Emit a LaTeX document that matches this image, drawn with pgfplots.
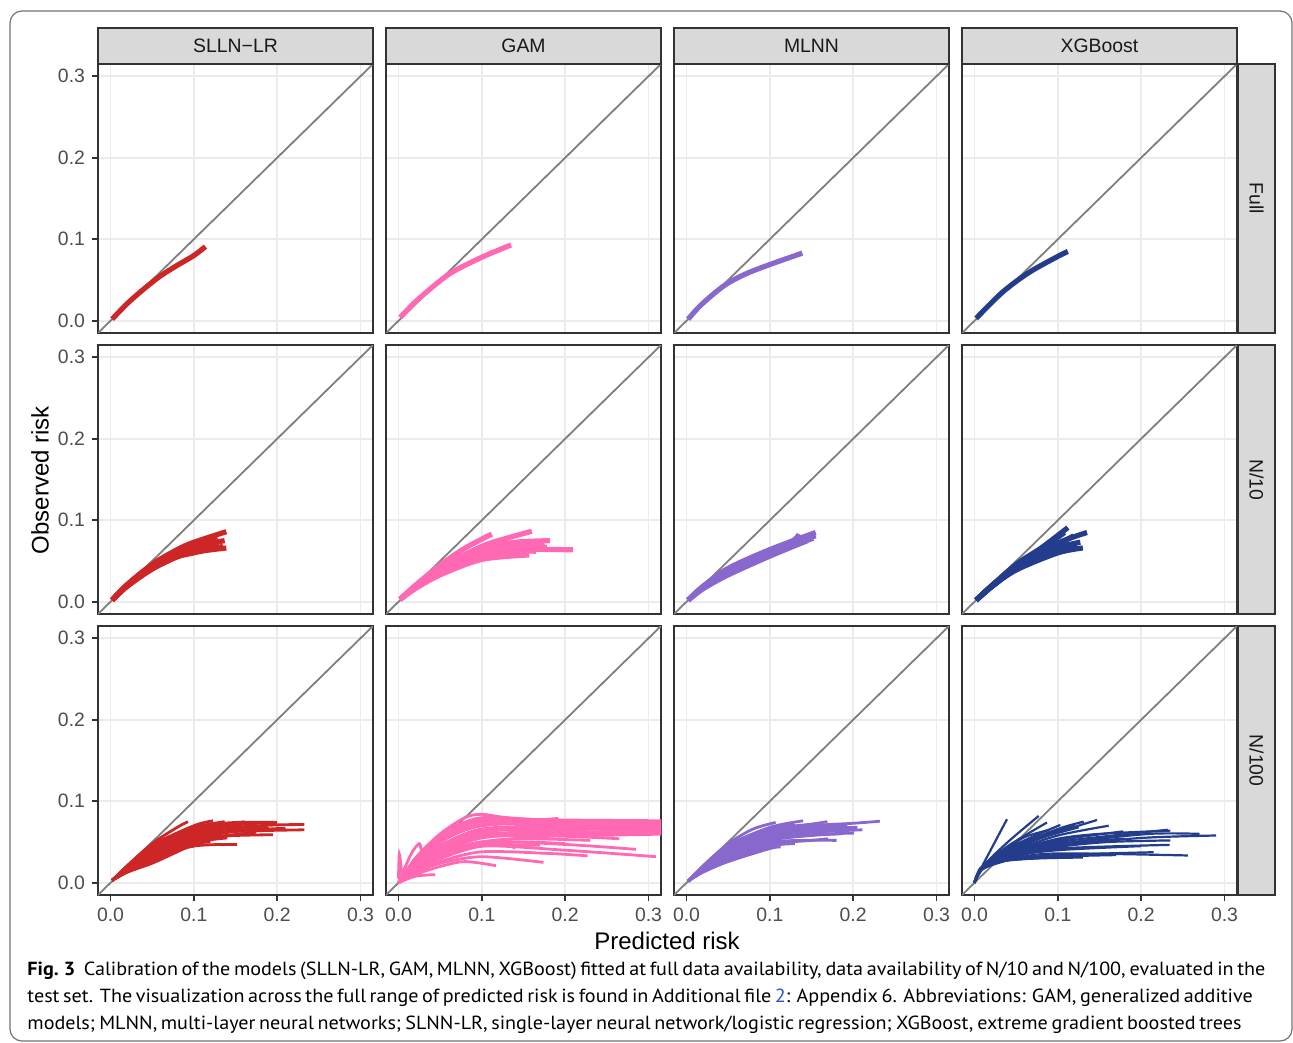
\documentclass[border=0pt]{standalone}
\usepackage{pgfplots}
\pgfplotsset{compat=1.18}
\usepackage{fontspec}
\setmainfont{Liberation Sans}
\newfontfamily\capfont{PT Sans}[FakeStretch=1.06]
\definecolor{cSL}{HTML}{CD2626}
\definecolor{cGA}{HTML}{FF69B4}
\definecolor{cML}{HTML}{8968CD}
\definecolor{cXG}{HTML}{233D8C}
\definecolor{gridc}{HTML}{EBEBEB}
\definecolor{frm}{HTML}{333333}
\definecolor{diagc}{HTML}{7F7F7F}
\definecolor{tickc}{HTML}{4D4D4D}
\definecolor{stripc}{HTML}{D9D9D9}
\definecolor{linkc}{HTML}{2A4FD8}
\newcommand\crv[1]{\addplot coordinates {#1};}
\newcommand\diag{\addplot[draw=diagc, line width=0.9pt, sharp plot] coordinates {(-0.015,-0.015)(0.315,0.315)};}
\pgfplotsset{
 panel/.style={
  scale only axis, width=137.5pt, height=134.5pt, anchor=south west,
  xmin=-0.015,xmax=0.315,ymin=-0.015,ymax=0.315,
  xtick={0,0.1,0.2,0.3}, ytick={0,0.1,0.2,0.3},
  grid=major, major grid style={draw=gridc, line width=0.9pt},
  axis line style={draw=frm, line width=0.9pt},
  tick align=outside, tick pos=left,
  major tick length=3pt,
  tick style={draw=frm, line width=0.9pt},
  xmajorticks=false, ymajorticks=false,
  xticklabels={}, yticklabels={},
  tick label style={font=\fontsize{9.7}{11}\selectfont, text=tickc},
  no markers,
  axis background/.style={fill=white},
 },
 lcol/.style={ymajorticks=true, yticklabels={0.0,0.1,0.2,0.3}},
 brow/.style={xmajorticks=true, xticklabels={0.0,0.1,0.2,0.3}},
 pthick/.style={every axis plot/.append style={smooth, line width=2.6pt, line cap=butt}},
 pthin/.style={every axis plot/.append style={smooth, line width=1.4pt, line cap=butt}},
 csl/.style={cycle list={draw=cSL,solid\\}},
 cga/.style={cycle list={draw=cGA,solid\\}},
 cml/.style={cycle list={draw=cML,solid\\}},
 cxg/.style={cycle list={draw=cXG,solid\\}},
}
\begin{document}
\begin{tikzpicture}
\useasboundingbox (0,0) rectangle (646.5pt,-521pt);
\draw[color=black!55, line width=0.6pt, rounded corners=6pt] (5pt,-5.5pt) rectangle (646pt,-520.5pt);
% ---------------- Row 1: Full
\begin{axis}[panel, lcol, pthick, csl, at={(49pt,-166.5pt)}]
\diag
\crv{(0.002,0.002)(0.02,0.021)(0.04,0.039)(0.06,0.055)(0.08,0.068)(0.1,0.08)(0.114,0.091)}
\end{axis}
\begin{axis}[panel, pthick, cga, at={(193pt,-166.5pt)}]
\diag
\crv{(0.002,0.004)(0.02,0.023)(0.045,0.045)(0.065,0.06)(0.1,0.078)(0.135,0.093)}
\end{axis}
\begin{axis}[panel, pthick, cml, at={(337pt,-166.5pt)}]
\diag
\crv{(0.002,0.002)(0.018,0.02)(0.045,0.043)(0.07,0.057)(0.1,0.069)(0.139,0.083)}
\end{axis}
\begin{axis}[panel, pthick, cxg, at={(481pt,-166.5pt)}]
\diag
\crv{(0.002,0.003)(0.0335,0.035)(0.065,0.059)(0.1,0.079)(0.112,0.085)}
\end{axis}
% ---------------- Row 2: N/10
\begin{axis}[panel, lcol, pthick, csl, at={(49pt,-307pt)}]
\diag
\crv{(0.002,0.002)(0.02,0.021)(0.05,0.046)(0.08,0.064)(0.1,0.073)(0.139,0.086)}
\crv{(0.002,0.002)(0.02,0.02)(0.05,0.044)(0.08,0.06)(0.1,0.068)(0.137,0.075)}
\crv{(0.002,0.002)(0.02,0.019)(0.05,0.041)(0.08,0.056)(0.1,0.061)(0.139,0.066)}
\crv{(0.002,0.002)(0.02,0.02)(0.05,0.043)(0.08,0.06)(0.1,0.068)(0.121,0.075)}
\crv{(0.002,0.002)(0.02,0.02)(0.05,0.042)(0.08,0.058)(0.1,0.065)(0.13,0.071)}
\crv{(0.002,0.002)(0.02,0.019)(0.05,0.04)(0.08,0.055)(0.1,0.06)(0.135,0.068)}
\crv{(0.002,0.002)(0.02,0.021)(0.05,0.045)(0.08,0.062)(0.1,0.07)(0.128,0.08)}
\end{axis}
\begin{axis}[panel, pthick, cga, at={(193pt,-307pt)}]
\diag
\crv{(0.002,0.003)(0.02,0.02)(0.05,0.045)(0.08,0.066)(0.112,0.083)}
\crv{(0.002,0.003)(0.02,0.019)(0.05,0.042)(0.1,0.068)(0.13,0.078)(0.16,0.0865)}
\crv{(0.002,0.003)(0.02,0.018)(0.05,0.04)(0.1,0.065)(0.14,0.073)(0.182,0.075)}
\crv{(0.002,0.003)(0.02,0.017)(0.05,0.036)(0.1,0.058)(0.15,0.064)(0.2095,0.0637)}
\crv{(0.002,0.003)(0.02,0.017)(0.05,0.037)(0.1,0.06)(0.14,0.067)(0.178,0.067)}
\crv{(0.002,0.003)(0.02,0.016)(0.05,0.033)(0.1,0.052)(0.157,0.0575)}
\crv{(0.002,0.003)(0.02,0.018)(0.05,0.039)(0.1,0.063)(0.15,0.07)(0.175,0.071)}
\crv{(0.002,0.003)(0.02,0.017)(0.05,0.035)(0.1,0.056)(0.14,0.062)(0.165,0.062)}
\end{axis}
\begin{axis}[panel, pthick, cml, at={(337pt,-307pt)}]
\diag
\crv{(0.002,0.002)(0.02,0.019)(0.05,0.041)(0.1,0.064)(0.155,0.085)}
\crv{(0.002,0.002)(0.02,0.018)(0.05,0.038)(0.1,0.061)(0.155,0.081)}
\crv{(0.002,0.002)(0.02,0.017)(0.05,0.036)(0.1,0.058)(0.152,0.078)}
\crv{(0.002,0.002)(0.02,0.018)(0.05,0.039)(0.1,0.062)(0.14,0.077)(0.148,0.082)}
\crv{(0.002,0.002)(0.02,0.016)(0.05,0.033)(0.1,0.056)(0.145,0.075)}
\crv{(0.002,0.002)(0.02,0.019)(0.05,0.04)(0.1,0.063)(0.128,0.075)(0.135,0.083)}
\end{axis}
\begin{axis}[panel, pthick, cxg, at={(481pt,-307pt)}]
\diag
\crv{(0.002,0.002)(0.02,0.019)(0.05,0.046)(0.08,0.066)(0.112,0.091)}
\crv{(0.002,0.002)(0.02,0.019)(0.05,0.044)(0.1,0.072)(0.135,0.085)}
\crv{(0.002,0.002)(0.02,0.018)(0.05,0.042)(0.1,0.066)(0.127,0.073)}
\crv{(0.002,0.002)(0.02,0.018)(0.05,0.04)(0.1,0.062)(0.123,0.069)}
\crv{(0.002,0.002)(0.02,0.019)(0.05,0.043)(0.1,0.07)(0.119,0.081)}
\crv{(0.002,0.002)(0.02,0.018)(0.05,0.039)(0.1,0.06)(0.13,0.066)}
\crv{(0.002,0.002)(0.02,0.019)(0.05,0.045)(0.09,0.072)(0.108,0.085)}
\end{axis}
% ---------------- Row 3: N/100
\begin{axis}[panel, lcol, brow, pthin, csl, at={(49pt,-447.5pt)}]
\diag
\crv{(0.002,0.003)(0.02,0.021)(0.05,0.048)(0.08,0.068)(0.093,0.075)}
\crv{(0.002,0.003)(0.02,0.02)(0.05,0.046)(0.1,0.07)(0.123,0.076)}
\crv{(0.002,0.003)(0.02,0.019)(0.05,0.043)(0.1,0.067)(0.137,0.075)}
\crv{(0.002,0.003)(0.02,0.019)(0.05,0.042)(0.1,0.065)(0.15,0.073)(0.161,0.075)}
\crv{(0.002,0.003)(0.02,0.018)(0.05,0.04)(0.1,0.063)(0.15,0.071)(0.197,0.074)}
\crv{(0.002,0.003)(0.02,0.018)(0.05,0.038)(0.1,0.061)(0.15,0.068)(0.2,0.071)(0.2326,0.0714)}
\crv{(0.002,0.003)(0.02,0.017)(0.05,0.036)(0.1,0.058)(0.15,0.063)(0.2326,0.065)}
\crv{(0.002,0.003)(0.02,0.016)(0.05,0.034)(0.1,0.055)(0.15,0.058)(0.195,0.059)}
\crv{(0.002,0.003)(0.02,0.014)(0.05,0.029)(0.1,0.045)(0.152,0.047)}
\crv{(0.002,0.003)(0.02,0.015)(0.05,0.031)(0.1,0.05)(0.15,0.059)(0.175,0.062)}
\crv{(0.002,0.003)(0.02,0.017)(0.05,0.037)(0.1,0.06)(0.15,0.067)(0.18,0.069)}
\crv{(0.002,0.003)(0.02,0.018)(0.05,0.041)(0.1,0.065)(0.14,0.072)(0.165,0.074)}
\crv{(0.002,0.003)(0.02,0.015)(0.05,0.032)(0.1,0.052)(0.14,0.058)(0.16,0.06)}
\crv{(0.002,0.003)(0.02,0.016)(0.05,0.035)(0.1,0.057)(0.13,0.063)}
\crv{(0.002,0.003)(0.02,0.019)(0.05,0.044)(0.1,0.068)(0.15,0.074)(0.2,0.074)}
\crv{(0.002,0.003)(0.02,0.015)(0.05,0.033)(0.1,0.054)(0.15,0.063)(0.21,0.067)}
\crv{(0.002,0.003)(0.02,0.013)(0.05,0.025)(0.1,0.047)(0.12,0.05)}
\crv{(0.002,0.003)(0.02,0.017)(0.05,0.038)(0.1,0.062)(0.12,0.066)}
\crv{(0.002,0.003)(0.02,0.014)(0.05,0.028)(0.1,0.049)(0.14,0.055)}
\crv{(0.002,0.003)(0.02,0.016)(0.05,0.034)(0.1,0.056)(0.15,0.064)(0.19,0.067)}
\crv{(0.002,0.003)(0.02,0.013)(0.05,0.024)(0.08,0.038)(0.1,0.048)}
\end{axis}
\begin{axis}[panel, brow, pthin, cga, at={(193pt,-447.5pt)}]
\diag
\crv{(0.0,0.0)(0.02,0.03)(0.05,0.06)(0.08,0.08)(0.1,0.084)(0.13,0.08)(0.2,0.076)(0.33,0.075)}
\crv{(0.0,0.0)(0.02,0.028)(0.05,0.055)(0.09,0.075)(0.13,0.078)(0.2,0.077)(0.33,0.076)}
\crv{(0.0,0.0)(0.02,0.025)(0.05,0.05)(0.1,0.07)(0.2,0.073)(0.33,0.072)}
\crv{(0.0,0.0)(0.02,0.022)(0.05,0.045)(0.1,0.066)(0.2,0.07)(0.33,0.07)}
\crv{(0.0,0.0)(0.02,0.02)(0.05,0.042)(0.1,0.062)(0.2,0.068)(0.33,0.068)}
\crv{(0.0,0.0)(0.02,0.018)(0.05,0.038)(0.1,0.058)(0.2,0.065)(0.33,0.066)}
\crv{(0.0,0.0)(0.02,0.017)(0.05,0.035)(0.1,0.055)(0.2,0.062)(0.33,0.063)}
\crv{(0.0,0.0)(0.02,0.015)(0.05,0.032)(0.1,0.05)(0.2,0.058)(0.33,0.062)}
\crv{(0.0,0.0)(0.02,0.015)(0.05,0.03)(0.1,0.045)(0.2,0.04)(0.309,0.032)}
\crv{(0.0,0.0)(0.02,0.016)(0.05,0.033)(0.1,0.05)(0.2,0.047)(0.285,0.041)}
\crv{(0.0,0.0)(0.02,0.02)(0.05,0.04)(0.1,0.058)(0.2,0.057)(0.265,0.054)}
\crv{(0.0,0.0)(0.02,0.012)(0.05,0.026)(0.1,0.038)(0.18,0.036)(0.227,0.033)}
\crv{(0.0,0.0)(0.02,0.012)(0.05,0.024)(0.1,0.032)(0.174,0.025)}
\crv{(0.0,0.0)(0.02,0.01)(0.05,0.02)(0.08,0.026)(0.117,0.021)}
\crv{(0.0,0.0)(0.02,0.008)(0.044,0.01)}
\crv{(0.0,0.005)(0.001,0.035)(0.004,0.01)}
\crv{(0.0,0.0)(0.015,0.035)(0.025,0.048)(0.03,0.04)(0.06,0.058)(0.1,0.07)(0.192,0.079)}
\crv{(0.0,0.0)(0.02,0.024)(0.05,0.05)(0.09,0.07)(0.15,0.073)(0.2,0.07)(0.25,0.065)(0.33,0.064)}
\crv{(0.0,0.0)(0.02,0.02)(0.05,0.043)(0.1,0.06)(0.15,0.06)(0.22,0.058)(0.33,0.06)}
\crv{(0.0,0.0)(0.02,0.022)(0.05,0.046)(0.1,0.065)(0.15,0.065)(0.25,0.068)(0.33,0.073)}
\crv{(0.0,0.0)(0.02,0.018)(0.05,0.036)(0.1,0.05)(0.15,0.054)(0.23,0.052)}
\crv{(0.0,0.0)(0.02,0.026)(0.05,0.052)(0.085,0.072)(0.12,0.075)(0.18,0.074)}
\crv{(0.0,0.0)(0.02,0.014)(0.05,0.03)(0.1,0.046)(0.15,0.05)(0.2,0.048)}
\crv{(0.0,0.0)(0.02,0.02)(0.05,0.04)(0.1,0.056)(0.16,0.058)(0.28,0.063)(0.33,0.067)}
\crv{(0.0,0.0)(0.03,0.04)(0.06,0.065)(0.09,0.078)(0.11,0.08)(0.14,0.077)(0.25,0.074)}
\crv{(0.0,0.0)(0.02,0.017)(0.05,0.037)(0.1,0.048)(0.125,0.05)(0.14,0.042)}
\crv{(0.0,0.005)(0.01,0.012)(0.02,0.022)(0.03,0.02)(0.05,0.03)(0.1,0.045)(0.17,0.046)}
\end{axis}
\begin{axis}[panel, brow, pthin, cml, at={(337pt,-447.5pt)}]
\diag
\crv{(0.002,0.002)(0.02,0.021)(0.05,0.048)(0.08,0.066)(0.107,0.074)}
\crv{(0.002,0.002)(0.02,0.02)(0.05,0.046)(0.1,0.068)(0.14,0.076)}
\crv{(0.002,0.002)(0.02,0.019)(0.05,0.043)(0.1,0.065)(0.15,0.072)(0.169,0.075)}
\crv{(0.002,0.002)(0.02,0.019)(0.05,0.042)(0.1,0.063)(0.15,0.07)(0.2,0.073)(0.232,0.0755)}
\crv{(0.002,0.002)(0.02,0.018)(0.05,0.04)(0.1,0.06)(0.15,0.066)(0.193,0.07)}
\crv{(0.002,0.002)(0.02,0.017)(0.05,0.037)(0.1,0.057)(0.15,0.062)(0.211,0.065)}
\crv{(0.002,0.002)(0.02,0.016)(0.05,0.034)(0.1,0.054)(0.15,0.059)(0.201,0.061)}
\crv{(0.002,0.002)(0.02,0.015)(0.05,0.031)(0.1,0.05)(0.18,0.052)}
\crv{(0.002,0.002)(0.02,0.013)(0.05,0.026)(0.1,0.042)(0.113,0.044)}
\crv{(0.002,0.002)(0.02,0.014)(0.05,0.029)(0.1,0.047)(0.15,0.052)(0.17,0.054)}
\crv{(0.002,0.002)(0.02,0.018)(0.05,0.039)(0.1,0.061)(0.12,0.066)}
\crv{(0.002,0.002)(0.02,0.017)(0.05,0.036)(0.1,0.056)(0.15,0.064)(0.19,0.066)}
\crv{(0.002,0.002)(0.02,0.016)(0.05,0.033)(0.1,0.052)(0.15,0.058)(0.185,0.06)}
\crv{(0.002,0.002)(0.02,0.02)(0.05,0.045)(0.1,0.067)(0.13,0.071)}
\crv{(0.002,0.002)(0.02,0.015)(0.05,0.03)(0.1,0.048)(0.14,0.052)}
\crv{(0.002,0.002)(0.02,0.018)(0.05,0.038)(0.1,0.059)(0.15,0.066)(0.205,0.068)}
\crv{(0.002,0.002)(0.02,0.019)(0.05,0.041)(0.1,0.062)(0.15,0.069)(0.18,0.071)}
\crv{(0.002,0.002)(0.02,0.014)(0.05,0.028)(0.1,0.045)(0.13,0.048)}
\end{axis}
\begin{axis}[panel, brow, pthin, cxg, at={(481pt,-447.5pt)}, every axis plot/.append style={line width=1.1pt}]
\diag
\crv{(0.0,0.0)(0.008,0.018)(0.039,0.078)}
\crv{(0.0,0.0)(0.01,0.02)(0.04,0.05)(0.077,0.082)}
\crv{(0.0,0.0)(0.01,0.02)(0.04,0.045)(0.087,0.074)}
\crv{(0.0,0.0)(0.01,0.02)(0.05,0.047)(0.103,0.071)}
\crv{(0.0,0.0)(0.01,0.02)(0.05,0.045)(0.1,0.066)(0.131,0.075)}
\crv{(0.0,0.0)(0.01,0.02)(0.05,0.043)(0.1,0.062)(0.147,0.077)}
\crv{(0.0,0.0)(0.01,0.019)(0.05,0.04)(0.1,0.058)(0.161,0.070)}
\crv{(0.0,0.0)(0.01,0.019)(0.05,0.038)(0.1,0.052)(0.178,0.063)}
\crv{(0.0,0.0)(0.01,0.019)(0.05,0.036)(0.1,0.05)(0.232,0.065)}
\crv{(0.0,0.0)(0.01,0.018)(0.05,0.034)(0.1,0.045)(0.2,0.055)(0.29,0.058)}
\crv{(0.0,0.0)(0.01,0.018)(0.05,0.032)(0.1,0.042)(0.234,0.0465)}
\crv{(0.0,0.0)(0.01,0.017)(0.05,0.03)(0.1,0.036)(0.256,0.0335)}
\crv{(0.0,0.0)(0.01,0.017)(0.04,0.028)(0.1,0.034)(0.215,0.0375)}
\crv{(0.0,0.0)(0.01,0.018)(0.05,0.033)(0.1,0.04)(0.2,0.045)}
\crv{(0.0,0.0)(0.01,0.019)(0.05,0.037)(0.1,0.048)(0.18,0.054)}
\crv{(0.0,0.0)(0.01,0.019)(0.05,0.041)(0.08,0.055)(0.125,0.068)}
\crv{(0.0,0.0)(0.01,0.018)(0.05,0.035)(0.12,0.05)(0.21,0.06)(0.27,0.06)}
\crv{(0.0,0.0)(0.01,0.017)(0.03,0.026)(0.1,0.032)(0.17,0.034)}
\crv{(0.0,0.0)(0.01,0.02)(0.04,0.042)(0.06,0.056)(0.09,0.065)}
\crv{(0.0,0.0)(0.01,0.019)(0.05,0.039)(0.1,0.054)(0.15,0.06)(0.235,0.064)}
\crv{(0.0,0.0)(0.01,0.018)(0.05,0.034)(0.1,0.044)(0.16,0.05)(0.235,0.052)}
\crv{(0.0,0.0)(0.005,0.015)(0.01,0.02)(0.03,0.027)(0.08,0.03)(0.13,0.031)}
\crv{(0.0,0.0)(0.01,0.02)(0.05,0.044)(0.1,0.064)(0.12,0.071)}
\end{axis}
% ---------------- strips
\foreach \x/\t in {49/SLLN\textminus LR,193/GAM,337/MLNN,481/XGBoost}{
  \draw[fill=stripc, draw=frm, line width=0.9pt] (\x pt,-14pt) rectangle ++(137.5pt,-18pt);
  \node[text=black!90, font=\fontsize{9.7}{11}\selectfont] at ({\x pt+68.75pt},-23pt) {\t};
}
\foreach \y/\t in {-32/Full,-172.5/N\slash 10,-313/N\slash 100}{
  \draw[fill=stripc, draw=frm, line width=0.9pt] (619pt,\y pt) rectangle ++(18.5pt,-134.5pt);
  \node[rotate=-90, text=black!90, font=\fontsize{9.7}{11}\selectfont] at (628.25pt,{\y pt-67.25pt}) {\t};
}
% ---------------- axis titles
\node[font=\fontsize{12}{14}\selectfont] at (333.5pt,-470.5pt) {Predicted risk};
\node[rotate=90, font=\fontsize{12}{14}\selectfont] at (20pt,-240pt) {Observed risk};
% ---------------- caption
\node[anchor=base west, inner sep=0pt] at (13.5pt,-487.5pt) {\capfont\fontsize{9.5}{10}\selectfont\hbox to 619pt{\mbox{\textbf{Fig.\ 3}}\hspace{0.45em}Calibration of the models (SLLN-LR, GAM, MLNN, XGBoost) fitted at full data availability, data availability of N/10 and N/100, evaluated in the}};
\node[anchor=base west, inner sep=0pt] at (13.5pt,-501pt) {\capfont\fontsize{9.5}{10}\selectfont\hbox to 609.5pt{test set. The visualization across the full range of predicted risk is found in Additional file {\color{linkc}2}: Appendix 6. Abbreviations: GAM, generalized additive}};
\node[anchor=base west, inner sep=0pt] at (13.5pt,-514.5pt) {\capfont\fontsize{9.5}{10}\selectfont\hbox to 601.5pt{models; MLNN, multi-layer neural networks; SLNN-LR, single-layer neural network/logistic regression; XGBoost, extreme gradient boosted trees}};
\end{tikzpicture}
\end{document}
